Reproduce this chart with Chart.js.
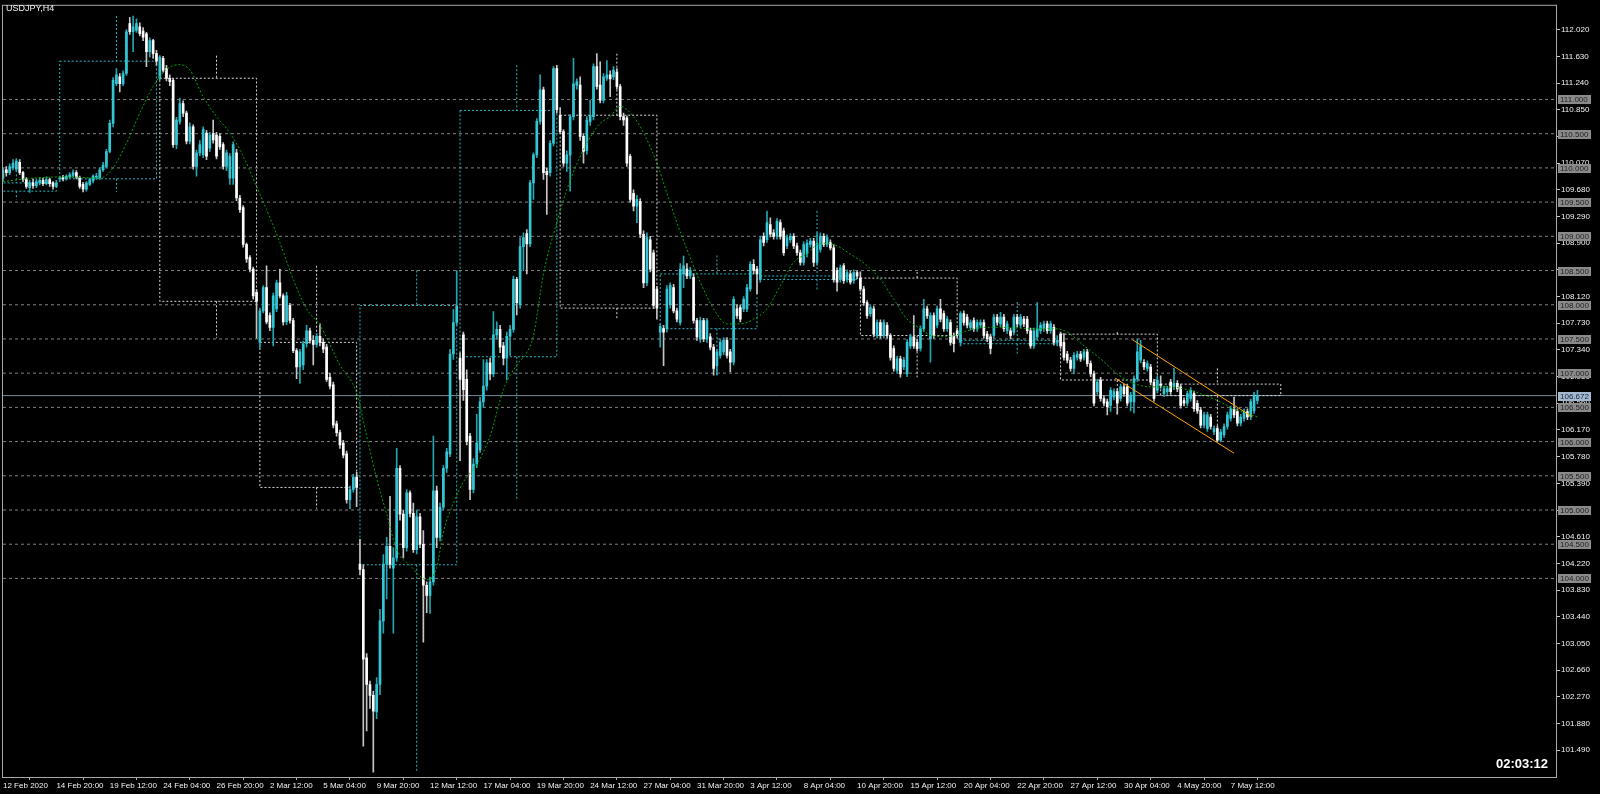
<!DOCTYPE html>
<html>
<head>
<meta charset="utf-8">
<title>USDJPY,H4</title>
<script src="https://cdn.jsdelivr.net/npm/chart.js@4.4.1/dist/chart.umd.min.js"></script>
<style>
  html, body { margin: 0; padding: 0; background: #000; }
  #wrap { width: 1600px; height: 794px; }
</style>
</head>
<body>
<div id="wrap"><canvas id="chart" width="1600" height="794"></canvas></div>
<script>
const symbolTitle = "USDJPY,H4";
const barTimer = "02:03:12";
const lastPrice = 106.672;

// one time label every 16 H4 bars, starting at bar 0
const labelStep = 16;
const timeLabels = ["12 Feb 2020", "14 Feb 20:00", "19 Feb 12:00", "24 Feb 04:00", "26 Feb 20:00", "2 Mar 12:00",
  "5 Mar 04:00", "9 Mar 20:00", "12 Mar 12:00", "17 Mar 04:00", "19 Mar 20:00", "24 Mar 12:00", "27 Mar 04:00",
  "31 Mar 20:00", "3 Apr 12:00", "8 Apr 04:00", "10 Apr 20:00", "15 Apr 12:00", "20 Apr 04:00", "22 Apr 20:00",
  "27 Apr 12:00", "30 Apr 04:00", "4 May 20:00", "7 May 12:00"];

const yTicks = [112.02, 111.63, 111.24, 110.85, 110.46, 110.07, 109.68, 109.29, 108.90, 108.51, 108.12, 107.73,
  107.34, 106.95, 106.56, 106.17, 105.78, 105.39, 105.00, 104.61, 104.22, 103.83, 103.44, 103.05, 102.66,
  102.27, 101.88, 101.49];

// horizontal line objects
const levels = [111.0, 110.5, 110.0, 109.5, 109.0, 108.5, 108.0, 107.5, 107.0, 106.5, 106.0, 105.5, 105.0, 104.5, 104.0];

const opens = [
  109.85,109.97,109.93,110.00,109.98,110.08,109.93,109.83,109.71,109.78,109.74,109.78,109.82,109.77,109.83,109.78,
  109.73,109.84,109.86,109.84,109.87,109.89,109.93,109.86,109.76,109.69,109.76,109.81,109.86,109.85,109.97,110.02,
  110.24,110.65,111.23,111.33,111.23,111.38,112.11,111.99,112.01,112.06,112.00,111.96,111.70,111.86,111.67,111.31,
  111.60,111.45,111.31,111.28,110.34,110.68,110.94,110.80,110.39,110.60,110.02,110.22,110.19,110.51,110.29,110.50,
  110.48,110.46,110.34,110.02,109.85,109.85,110.22,109.56,109.42,108.88,108.69,108.52,108.18,107.45,107.91,108.25,
  107.84,107.67,107.94,108.32,108.13,107.75,107.99,107.77,107.33,107.09,107.12,107.43,107.62,107.48,107.42,107.54,
  107.45,107.38,106.94,106.83,106.26,106.13,105.98,105.82,105.15,105.30,105.48,104.21,104.13,102.84,102.45,102.29,
  102.05,102.45,103.38,104.21,104.47,104.15,104.30,105.61,104.94,104.45,105.25,104.95,104.42,104.90,104.50,103.90,
  103.75,103.95,105.28,104.60,105.04,105.61,105.82,107.28,107.74,107.22,107.56,106.91,106.08,105.30,105.67,105.88,
  106.58,106.81,107.15,106.99,107.56,107.64,107.40,107.22,107.54,107.64,108.37,108.00,108.85,109.04,108.89,109.78,
  110.19,110.68,111.14,109.95,109.93,110.36,111.45,110.77,110.53,110.07,110.19,110.75,111.21,111.21,110.46,110.25,
  110.68,110.75,111.48,111.21,110.99,111.31,111.36,111.33,111.40,111.19,110.75,110.73,110.17,109.63,109.44,109.51,
  109.03,108.32,108.95,108.76,108.23,107.60,107.65,107.65,108.00,108.25,107.91,107.74,108.45,108.52,108.42,108.40,
  107.77,107.50,107.77,107.50,107.53,107.38,107.11,107.26,107.31,107.48,107.31,107.16,107.94,107.96,107.94,107.94,
  108.23,108.59,108.52,108.37,109.00,108.95,109.17,109.05,109.00,109.20,109.08,108.86,108.95,109.00,108.86,108.76,
  108.62,108.75,108.88,108.93,108.62,108.81,109.00,108.88,108.91,108.83,108.50,108.37,108.57,108.37,108.45,108.35,
  108.47,108.39,108.23,108.03,107.87,107.94,107.55,107.74,107.55,107.70,107.55,107.36,107.04,107.21,107.09,106.99,
  107.40,107.53,107.45,107.36,107.65,107.94,107.50,107.84,107.70,107.94,107.87,107.65,107.74,107.55,107.62,107.45,
  107.87,107.82,107.67,107.77,107.65,107.70,107.74,107.57,107.53,107.55,107.82,107.72,107.82,107.62,107.62,107.60,
  107.82,107.70,107.79,107.79,107.62,107.40,107.53,107.62,107.65,107.72,107.62,107.67,107.45,107.57,107.45,107.28,
  107.19,107.07,107.23,107.28,107.23,107.31,107.14,106.99,106.73,106.90,106.63,106.58,106.53,106.65,106.73,106.63,
  106.80,106.80,106.58,106.58,106.92,107.19,107.16,107.07,107.09,106.87,106.75,106.84,106.70,106.73,106.87,106.80,
  106.85,106.80,106.60,106.56,106.63,106.70,106.56,106.46,106.24,106.19,106.36,106.14,106.19,106.02,106.10,106.22,
  106.34,106.48,106.44,106.27,106.34,106.44,106.36,106.45,106.60];

const highs = [
  110.00,110.02,110.06,110.12,110.13,110.12,109.95,109.86,109.82,109.84,109.84,109.86,109.85,109.87,109.85,109.80,
  109.82,109.88,109.89,109.90,109.93,109.97,109.96,109.88,109.79,109.80,109.85,109.90,109.92,110.00,110.08,110.27,
  110.70,111.32,111.45,111.38,111.42,112.02,112.20,112.22,112.18,112.12,112.05,111.98,111.90,111.88,111.72,111.64,
  111.63,111.50,111.36,111.31,110.74,111.02,110.98,110.83,110.66,110.63,110.26,110.40,110.60,110.55,110.52,110.70,
  110.52,110.50,110.37,110.26,110.21,110.38,110.27,109.60,109.45,108.90,108.72,108.55,108.22,107.95,108.28,108.57,
  107.88,108.17,108.36,108.52,108.16,108.18,108.02,107.80,107.36,107.35,107.47,107.70,107.66,107.55,107.58,107.72,
  107.50,107.42,107.00,106.87,106.30,106.17,106.02,105.86,105.35,105.52,105.55,104.57,104.20,102.90,102.50,102.35,
  102.55,103.55,104.35,104.60,105.20,104.45,105.90,105.65,105.00,105.30,105.28,105.10,105.00,104.95,104.70,103.95,
  104.02,106.08,105.35,105.10,105.65,105.90,107.35,107.93,108.50,107.30,107.60,107.05,106.12,105.75,106.40,106.65,
  107.20,107.20,107.22,107.90,107.75,107.70,107.45,107.60,107.70,108.42,108.40,108.98,109.05,109.10,109.82,110.22,
  110.72,111.36,111.18,110.00,110.40,111.48,111.50,110.88,110.56,110.25,110.78,111.60,111.30,111.33,110.50,110.75,
  110.99,111.52,111.67,111.55,111.38,111.57,111.42,111.48,111.45,111.22,110.80,110.76,110.20,109.68,109.60,109.55,
  109.08,109.05,109.00,108.80,108.27,107.72,107.70,108.28,108.32,108.30,107.95,108.60,108.71,108.60,108.55,108.45,
  107.80,107.82,107.80,107.80,107.58,107.42,107.35,107.50,107.52,107.52,107.35,108.12,108.00,108.00,108.12,108.30,
  108.63,108.66,108.56,109.00,109.05,109.37,109.27,109.10,109.26,109.24,109.12,109.02,109.04,109.04,108.90,108.80,
  108.92,108.95,108.97,108.97,109.05,109.05,109.04,109.02,108.95,108.88,108.54,108.58,108.60,108.51,108.49,108.51,
  108.50,108.48,108.27,108.06,108.00,107.98,107.78,107.78,107.78,107.74,107.58,107.40,107.25,107.25,107.23,107.49,
  107.57,107.84,107.49,107.69,108.08,107.98,107.88,107.88,107.98,108.08,107.91,107.83,107.78,107.59,107.66,107.90,
  107.91,107.86,107.78,107.81,107.78,107.78,107.78,107.61,107.57,107.86,107.86,107.89,107.86,107.76,107.66,107.86,
  107.86,107.86,107.83,107.83,107.66,107.66,108.03,107.74,107.76,107.76,107.76,107.71,107.55,107.60,107.58,107.32,
  107.23,107.30,107.32,107.32,107.35,107.35,107.18,107.03,106.91,106.94,106.67,106.62,106.79,106.77,106.77,106.84,
  106.84,106.84,106.72,106.96,107.50,107.48,107.20,107.18,107.13,106.91,106.96,106.96,106.81,106.81,106.91,107.07,
  106.89,106.84,106.64,106.74,106.79,106.74,106.60,106.50,106.43,106.43,106.40,106.23,106.23,106.18,106.26,106.43,
  106.52,106.65,106.48,106.40,106.48,106.48,106.62,106.72,106.75];

const lows = [
  109.80,109.88,109.90,109.97,109.95,109.90,109.80,109.70,109.64,109.70,109.71,109.75,109.74,109.75,109.73,109.69,
  109.71,109.80,109.81,109.82,109.85,109.86,109.84,109.70,109.65,109.66,109.74,109.78,109.83,109.83,109.95,110.00,
  110.22,110.60,111.20,111.11,111.20,111.35,111.95,111.70,111.98,111.93,111.86,111.48,111.62,111.60,111.50,111.29,
  111.40,111.27,111.20,110.30,110.28,110.64,110.75,110.35,110.35,109.98,109.88,110.18,110.15,110.12,110.24,110.36,
  110.13,110.27,109.98,109.96,109.76,109.76,109.52,109.35,108.84,108.62,108.48,108.08,107.51,107.36,107.88,107.72,
  107.62,107.40,107.90,108.10,107.70,107.71,107.73,107.30,106.92,106.85,107.05,107.38,107.44,107.12,107.38,107.40,
  107.30,106.88,106.77,106.20,106.08,105.90,105.76,105.10,105.02,105.26,105.05,104.05,101.55,101.77,102.10,101.17,
  101.95,102.30,103.20,103.70,104.15,103.20,104.25,104.85,104.30,104.40,104.90,104.38,104.36,104.45,103.07,103.50,
  103.49,103.90,104.45,104.55,105.00,105.55,105.78,107.20,107.70,105.72,106.60,105.95,105.15,105.25,105.62,105.84,
  106.50,106.75,106.90,106.95,107.50,107.30,107.12,106.90,107.26,107.60,107.85,107.95,108.50,108.45,108.85,109.54,
  110.15,110.64,109.83,109.32,109.88,110.32,110.80,110.50,110.02,109.95,109.66,110.70,111.15,110.40,110.07,110.20,
  110.62,110.70,111.15,110.95,110.95,111.28,111.04,111.29,111.15,110.70,110.62,110.02,109.50,109.37,109.20,108.98,
  108.25,108.28,108.48,107.95,107.79,107.38,107.11,107.60,107.95,107.88,107.75,107.70,108.25,108.38,108.38,107.73,
  107.48,107.45,107.46,107.45,107.34,106.97,106.97,107.22,107.27,107.22,107.02,107.12,107.80,107.75,107.90,107.90,
  108.20,108.45,108.16,108.33,108.86,108.91,108.99,108.96,108.96,108.96,108.72,108.82,108.91,108.82,108.72,108.58,
  108.58,108.70,108.84,108.56,108.58,108.77,108.85,108.85,108.80,108.33,108.20,108.33,108.31,108.33,108.30,108.31,
  108.38,108.20,107.99,107.80,107.83,107.53,107.51,107.51,107.51,107.51,107.19,107.03,107.00,106.94,107.05,106.95,
  107.36,107.36,107.32,107.32,107.61,107.80,107.16,107.51,107.66,107.75,107.61,107.61,107.41,107.31,107.51,107.40,
  107.70,107.66,107.63,107.61,107.61,107.66,107.51,107.46,107.28,107.51,107.70,107.68,107.61,107.58,107.50,107.56,
  107.68,107.66,107.68,107.58,107.36,107.36,107.49,107.58,107.61,107.58,107.58,107.41,107.40,107.36,107.19,107.15,
  107.03,106.99,107.19,107.17,107.19,107.10,106.95,106.52,106.69,106.59,106.52,106.39,106.44,106.61,106.40,106.59,
  106.66,106.52,106.45,106.42,106.88,107.15,107.05,107.03,106.83,106.59,106.71,106.78,106.66,106.69,106.69,106.76,
  106.73,106.49,106.52,106.52,106.59,106.44,106.41,106.20,106.20,106.15,106.18,106.10,106.00,106.00,106.06,106.18,
  106.30,106.35,106.23,106.23,106.30,106.32,106.32,106.41,106.55];

const closes = [
  109.97,109.93,110.02,110.07,110.10,109.93,109.83,109.73,109.78,109.74,109.80,109.82,109.77,109.83,109.77,109.73,
  109.78,109.85,109.84,109.88,109.90,109.93,109.86,109.73,109.69,109.78,109.83,109.88,109.88,109.97,110.04,110.24,
  110.65,111.28,111.36,111.23,111.38,111.99,111.99,112.06,112.11,111.96,111.91,111.70,111.86,111.67,111.56,111.62,
  111.43,111.31,111.26,110.34,110.70,110.94,110.80,110.39,110.60,110.02,110.22,110.34,110.56,110.17,110.48,110.41,
  110.17,110.31,110.02,110.22,110.17,110.34,109.56,109.39,108.88,108.67,108.52,108.13,108.05,107.91,108.25,107.75,
  107.67,108.13,108.32,108.13,107.75,108.13,107.77,107.33,107.09,107.31,107.43,107.62,107.48,107.42,107.54,107.45,
  107.35,106.91,106.81,106.24,106.13,105.95,105.80,105.15,105.30,105.48,105.33,104.13,102.82,102.45,102.29,102.06,
  102.45,103.38,104.21,104.47,104.21,104.30,105.61,104.94,104.45,105.25,104.95,104.42,104.90,104.50,103.90,103.75,
  103.95,105.28,104.60,105.04,105.61,105.85,107.28,107.74,107.98,106.91,106.76,106.00,105.30,105.67,105.98,106.58,
  106.81,107.15,106.99,107.56,107.64,107.38,107.22,107.54,107.64,108.37,108.03,108.85,108.98,108.89,109.78,110.19,
  110.68,111.14,109.93,109.90,110.36,111.45,110.85,110.53,110.07,110.19,110.75,111.23,111.26,110.46,110.24,110.70,
  110.77,111.48,111.19,110.99,111.33,111.36,111.30,111.43,111.19,110.75,110.70,110.07,109.54,109.44,109.54,109.03,
  108.32,108.98,108.52,107.99,107.95,107.68,107.60,108.23,108.28,107.91,107.79,108.52,108.57,108.42,108.50,107.77,
  107.53,107.77,107.50,107.77,107.38,107.07,107.31,107.45,107.48,107.26,107.16,108.08,107.84,107.79,108.08,108.25,
  108.59,108.50,108.45,108.95,108.91,109.20,109.03,109.00,109.22,109.00,108.76,108.98,109.00,108.86,108.76,108.62,
  108.88,108.90,108.93,108.62,108.90,109.00,108.88,108.98,108.83,108.37,108.33,108.54,108.35,108.47,108.33,108.47,
  108.42,108.23,108.03,107.84,107.96,107.57,107.74,107.55,107.74,107.55,107.23,107.07,107.21,106.99,107.19,107.45,
  107.53,107.40,107.36,107.65,107.94,107.84,107.84,107.55,107.94,107.79,107.65,107.79,107.45,107.43,107.55,107.87,
  107.74,107.70,107.74,107.65,107.74,107.74,107.55,107.50,107.36,107.82,107.74,107.82,107.65,107.72,107.55,107.82,
  107.72,107.82,107.72,107.62,107.40,107.62,107.65,107.70,107.72,107.62,107.72,107.45,107.48,107.40,107.23,107.19,
  107.07,107.26,107.28,107.21,107.31,107.14,106.99,106.56,106.87,106.63,106.56,106.51,106.75,106.73,106.56,106.80,
  106.70,106.56,106.68,106.92,107.31,107.40,107.09,107.14,106.87,106.63,106.90,106.82,106.77,106.77,106.73,106.85,
  106.77,106.53,106.56,106.70,106.75,106.48,106.45,106.24,106.39,106.39,106.22,106.19,106.02,106.14,106.22,106.39,
  106.48,106.39,106.27,106.36,106.44,106.36,106.58,106.68,106.672];

// dotted moving average, read at these bars
const maBars = [0,9,19,29,33,37,41,45,49,53,56,60,64,68,72,76,79,83,87,91,95,101,106,109,112,115,118,122,127,130,
  132,135,138,142,146,150,154,157,159,162,166,169,174,179,182,185,189,192,196,199,202,205,209,213,217,221,225,229,
  233,237,241,245,249,254,259,263,267,271,275,279,284,289,294,299,304,309,315,319,324,329,334,339,344,349,354,359,
  364,369,376];
const maValues = [109.80,109.85,109.87,109.85,110.00,110.36,110.80,111.19,111.44,111.51,111.43,111.04,110.75,110.51,
  110.17,109.73,109.39,108.91,108.37,107.94,107.70,107.12,106.71,106.08,105.46,104.94,104.42,104.19,103.98,104.16,
  104.68,105.10,105.41,105.67,106.08,106.76,107.12,107.30,107.55,108.45,109.20,109.68,110.27,110.65,110.75,110.90,
  110.75,110.51,110.07,109.63,109.20,108.81,108.33,107.94,107.72,107.72,107.79,107.94,108.28,108.62,108.75,108.90,
  108.88,108.74,108.57,108.37,108.08,107.79,107.65,107.54,107.54,107.62,107.67,107.67,107.66,107.65,107.65,107.60,
  107.40,107.21,106.99,106.85,106.80,106.80,106.77,106.70,106.60,106.48,106.36];

// weekly candles drawn over the H4 chart
const weekFirst = [-13, 17, 47, 77, 107, 137, 167, 197, 227, 257, 287, 317, 347];
const weekLast  = [16, 46, 76, 106, 136, 166, 196, 226, 256, 286, 316, 346, 383];
const weekOpen  = [109.66, 109.84, 111.31, 107.45, 104.20, 107.24, 110.77, 107.65, 108.37, 108.39, 107.43, 107.57, 106.84];
const weekHigh  = [110.14, 112.22, 111.64, 108.57, 108.50, 111.50, 111.67, 108.72, 109.37, 108.48, 108.04, 107.60, 107.07];
const weekLow   = [109.54, 109.65, 107.51, 105.02, 101.17, 105.15, 107.79, 106.97, 108.20, 106.94, 107.28, 106.39, 106.00];
const weekClose = [109.78, 111.56, 108.05, 105.33, 107.99, 110.84, 107.95, 108.45, 108.42, 107.55, 107.48, 106.90, 106.672];

// trend channel
const channelUpperBars = [338.5, 374.5];
const channelUpper = [107.49, 106.36];
const channelLowerBars = [333.3, 369.0];
const channelLower = [106.93, 105.83];

const X_MIN = 0, X_MAX = 465.5;
const Y_MIN = 101.098, Y_MAX = 112.369;
const WICK_SHIFT = 17;

const UP = '#33c7d6', UP_WICK = '#22a5b1', DOWN = '#ffffff', DOWN_WICK = '#c4c4c4';
const FONT = '"Liberation Sans", Arial, sans-serif';
const TEXT = '#f2f2f2';

Chart.defaults.font.family = FONT;
Chart.defaults.font.size = 8;

const isUp = i => closes[i] >= opens[i];

const levelData = [];
levels.forEach(v => {
  levelData.push({ x: X_MIN, y: v }, { x: X_MAX, y: v }, { x: X_MAX, y: null });
});

const line = (data, color, extra) => Object.assign({
  type: 'line', data, borderColor: color, borderWidth: 1, pointRadius: 0,
  spanGaps: false, fill: false, clip: 0
}, extra);

const weekSets = weekFirst.map((l, k) => {
  const r = weekLast[k], w = l + WICK_SHIFT;
  const top = Math.max(weekOpen[k], weekClose[k]);
  const bot = Math.min(weekOpen[k], weekClose[k]);
  const pts = [
    { x: l, y: top }, { x: r, y: top }, { x: r, y: bot }, { x: l, y: bot }, { x: l, y: top }, { x: l, y: null },
    { x: w, y: weekHigh[k] }, { x: w, y: top }, { x: w, y: null },
    { x: w, y: bot }, { x: w, y: weekLow[k] }
  ];
  const color = weekClose[k] >= weekOpen[k] ? '#2ab8c6' : '#d8d8d8';
  return line(pts, color, { borderDash: [2, 2], order: 8 });
});

const datasets = [
  line(levelData, '#808080', { borderDash: [3, 3], order: 10 }),
  line([{ x: X_MIN, y: lastPrice }, { x: X_MAX, y: lastPrice }], '#778899', { order: 9 }),
  ...weekSets,
  {
    type: 'bar', data: highs.map((h, i) => ({ x: i, y: [lows[i], h] })),
    grouped: false, barThickness: 1, borderWidth: 0, order: 5, clip: 0,
    backgroundColor: c => isUp(c.dataIndex) ? UP_WICK : DOWN_WICK
  },
  {
    type: 'bar', data: closes.map((c, i) => ({ x: i, y: [opens[i], c] })),
    grouped: false, barThickness: 2, borderWidth: 0, minBarLength: 1, order: 4, clip: 0,
    backgroundColor: c => isUp(c.dataIndex) ? UP : DOWN
  },
  line(maBars.map((b, i) => ({ x: b, y: maValues[i] })), '#00a800',
    { borderDash: [2, 2], cubicInterpolationMode: 'monotone', order: 2 }),
  line(channelUpperBars.map((b, i) => ({ x: b, y: channelUpper[i] })), '#ffa500', { order: 1 }),
  line(channelLowerBars.map((b, i) => ({ x: b, y: channelLower[i] })), '#ffa500', { order: 1 })
];

const overlay = {
  id: 'overlay',
  afterDraw(chart) {
    const { ctx, chartArea: a } = chart;
    const y = chart.scales.y;
    ctx.save();
    ctx.strokeStyle = '#a8a8a8';
    ctx.lineWidth = 1;
    ctx.strokeRect(a.left - 0.5, a.top - 0.5, a.right - a.left + 1, a.bottom - a.top + 1);

    ctx.font = '8px ' + FONT;
    ctx.textAlign = 'left';
    ctx.textBaseline = 'middle';
    const tag = (v, bg, fg) => {
      const py = Math.round(y.getPixelForValue(v));
      ctx.fillStyle = bg;
      ctx.fillRect(a.right + 2, py - 4, 33, 9);
      ctx.fillStyle = fg;
      ctx.fillText(v.toFixed(3), a.right + 4, py + 0.5);
    };
    levels.forEach(v => tag(v, '#8a8a8a', '#1e1e1e'));
    tag(lastPrice, '#a4b9d0', '#14263a');

    ctx.textBaseline = 'alphabetic';
    ctx.fillStyle = TEXT;
    ctx.font = '9px ' + FONT;
    ctx.fillText(symbolTitle, 6, 11);

    ctx.font = 'bold 13px ' + FONT;
    ctx.textAlign = 'right';
    ctx.fillStyle = '#ffffff';
    ctx.fillText(barTimer, a.right - 8, a.bottom - 9);
    ctx.restore();
  }
};

new Chart(document.getElementById('chart'), {
  type: 'bar',
  data: { datasets },
  options: {
    responsive: false,
    animation: false,
    devicePixelRatio: 1,
    layout: { padding: { left: 3, top: 2, right: 0, bottom: 0 }, autoPadding: false },
    plugins: { legend: { display: false }, tooltip: { enabled: false } },
    scales: {
      x: {
        type: 'linear', min: X_MIN, max: X_MAX, offset: false,
        afterFit: s => { s.height = 17; },
        afterBuildTicks: s => { s.ticks = timeLabels.map((t, k) => ({ value: k * labelStep })); },
        grid: { display: true, drawOnChartArea: false, drawTicks: true, tickLength: 3, color: '#b0b0b0' },
        border: { display: false },
        ticks: {
          autoSkip: false, maxRotation: 0, minRotation: 0, align: 'start', padding: 1,
          color: TEXT, font: { size: 8 },
          callback: (v, i) => timeLabels[i]
        }
      },
      y: {
        type: 'linear', position: 'right', min: Y_MIN, max: Y_MAX,
        afterFit: s => { s.width = 44; },
        afterBuildTicks: s => { s.ticks = yTicks.map(v => ({ value: v })); },
        grid: { display: true, drawOnChartArea: false, drawTicks: true, tickLength: 4, color: '#c8c8c8' },
        border: { display: false },
        ticks: { padding: 1, color: TEXT, font: { size: 8 }, callback: v => v.toFixed(3) }
      }
    }
  },
  plugins: [overlay]
});
</script>
</body>
</html>
